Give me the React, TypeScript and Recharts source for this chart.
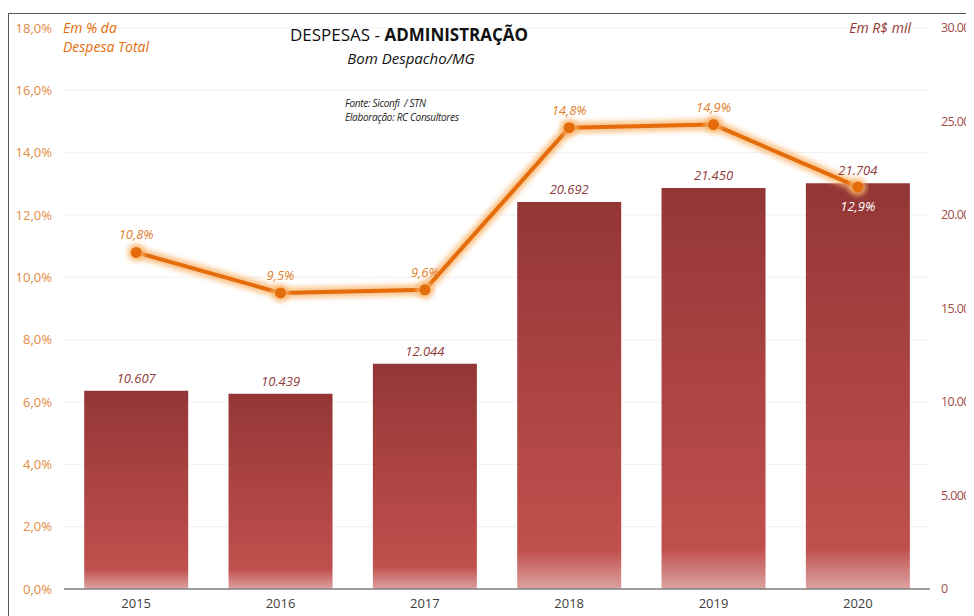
import React from 'react';
import {
  ComposedChart, Bar, Line, XAxis, YAxis, CartesianGrid, LabelList,
} from 'recharts';

// valores
const anos = ['2015', '2016', '2017', '2018', '2019', '2020'];
const despesa = [10607, 10439, 12044, 20692, 21450, 21704];
const percentual = [10.8, 9.5, 9.6, 14.8, 14.9, 12.9];
const ticksPct = [0, 2, 4, 6, 8, 10, 12, 14, 16, 18];
const ticksValor = [0, 5000, 10000, 15000, 20000, 25000, 30000];

const data = anos.map((ano, i) => ({ ano, valor: despesa[i], pct: percentual[i] }));

const FONT = '"Open Sans", "Noto Sans", sans-serif';
const LARANJA = '#E46C0A';
const VINHO = '#953735';

const fmtPct = (v: number) => v.toFixed(1).replace('.', ',') + '%';
const fmtValor = (v: number) => v.toLocaleString('pt-BR');

const PctLabel = (props: any) => {
  const { x, y, index, value } = props;
  const last = index === anos.length - 1;
  return (
    <text
      x={x}
      y={last ? y + 24 : y - 13}
      textAnchor="middle"
      fontSize={13}
      fontStyle="italic"
      fontFamily={FONT}
      fill={last ? '#ffffff' : '#E07F2E'}
    >
      {fmtPct(value)}
    </text>
  );
};

export default function App() {
  return (
    <div style={{ width: 966, height: 608, overflow: 'hidden', position: 'relative', fontFamily: FONT }}>
      <div
        style={{
          position: 'absolute', left: 0, top: 5, width: 1010, height: 660,
          border: '1.5px solid #595959', background: '#fff',
        }}
      >
        <ComposedChart
          width={1000}
          height={620}
          data={data}
          margin={{ top: 14, right: 0, left: 0, bottom: 0 }}
          barCategoryGap="14%"
        >
          <defs>
            <linearGradient id="barraGrad" x1="0" y1="0" x2="0" y2="1">
              <stop offset="0%" stopColor="#943636" />
              <stop offset="90%" stopColor="#C0504D" />
              <stop offset="100%" stopColor="#DCA3A2" />
            </linearGradient>
            <filter id="brilho" x="-10%" y="-30%" width="120%" height="160%">
              <feGaussianBlur stdDeviation="2.5" />
            </filter>
          </defs>
          <CartesianGrid vertical={false} stroke="#F0F0F0" yAxisId="left" />
          <XAxis
            dataKey="ano"
            height={45}
            tickSize={0}
            tickMargin={10}
            axisLine={{ stroke: '#808080', strokeWidth: 1.5 }}
            tick={{ fill: '#404040', fontSize: 13, fontFamily: FONT }}
          />
          <YAxis
            yAxisId="left"
            orientation="left"
            width={55}
            domain={[0, 18]}
            ticks={ticksPct}
            tickFormatter={fmtPct}
            axisLine={false}
            tickSize={0}
            tickMargin={12}
            tick={{ fill: '#E38A43', fontSize: 13, fontFamily: FONT }}
          />
          <YAxis
            yAxisId="right"
            orientation="right"
            width={79}
            domain={[0, 30000]}
            ticks={ticksValor}
            tickFormatter={fmtValor}
            axisLine={false}
            tickSize={0}
            tickMargin={11}
            tick={{ fill: '#A04A48', fontSize: 12.5, fontFamily: FONT, textAnchor: 'start', letterSpacing: -0.6 }}
          />
          <Bar yAxisId="right" dataKey="valor" fill="url(#barraGrad)" isAnimationActive={false}>
            <LabelList
              dataKey="valor"
              position="top"
              offset={8}
              formatter={(v: any) => fmtValor(v)}
              style={{ fill: '#8E3B3B', fontSize: 13, fontStyle: 'italic', fontFamily: FONT }}
            />
          </Bar>
          <Line
            yAxisId="left"
            dataKey="pct"
            stroke="#F9B56E"
            strokeOpacity={0.8}
            strokeWidth={11}
            filter="url(#brilho)"
            dot={{ r: 9, fill: '#F9B56E', fillOpacity: 0.8, stroke: 'none', filter: 'url(#brilho)' }}
            activeDot={false}
            isAnimationActive={false}
          />
          <Line
            yAxisId="left"
            dataKey="pct"
            stroke={LARANJA}
            strokeWidth={4}
            dot={{ r: 5.5, fill: LARANJA, stroke: 'none' }}
            activeDot={false}
            isAnimationActive={false}
          >
            <LabelList dataKey="pct" content={PctLabel} />
          </Line>
        </ComposedChart>
      </div>

      {/* títulos e notas */}
      <div style={{ position: 'absolute', left: 251, top: 15, width: 300, textAlign: 'center', fontSize: 17, color: '#111', whiteSpace: 'nowrap' }}>
        DESPESAS - <b>ADMINISTRAÇÃO</b>
      </div>
      <div style={{ position: 'absolute', left: 253, top: 40, width: 300, textAlign: 'center', fontSize: 15, fontStyle: 'italic', color: '#111' }}>
        Bom Despacho/MG
      </div>
      <div style={{ position: 'absolute', left: 337, top: 88, fontSize: 10, fontStyle: 'italic', color: '#222', lineHeight: '14px', letterSpacing: -0.3 }}>
        <div>Fonte: Siconfi&nbsp; / STN</div>
        <div>Elaboração: RC Consultores</div>
      </div>
      <div style={{ position: 'absolute', left: 55, top: 10, fontSize: 14, fontStyle: 'italic', color: LARANJA, lineHeight: '19px' }}>
        <div>Em % da</div>
        <div>Despesa Total</div>
      </div>
      <div style={{ position: 'absolute', left: 803, top: 10, width: 100, textAlign: 'right', fontSize: 14, fontStyle: 'italic', color: VINHO, lineHeight: '19px' }}>
        Em R$ mil
      </div>
    </div>
  );
}
